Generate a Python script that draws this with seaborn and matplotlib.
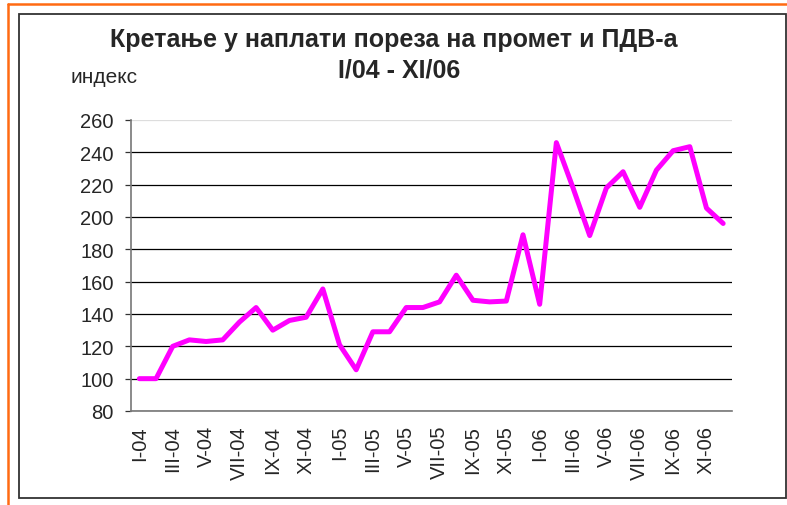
import numpy as np
import pandas as pd
import matplotlib
matplotlib.use("Agg")
import matplotlib.pyplot as plt
import seaborn as sns
from matplotlib.patches import Rectangle
from matplotlib.lines import Line2D

# index values, I/2004 .. XII/2006
months = ["I", "II", "III", "IV", "V", "VI", "VII", "VIII", "IX", "X", "XI", "XII"]
years = ["04", "05", "06"]
periods = [f"{m}-{y}" for y in years for m in months]
index_values = [100, 100, 120, 124, 123, 124, 135, 144, 130, 136, 138, 155.5,
                121, 105.5, 129, 129, 144, 144, 147.5, 164, 148.5, 147.5, 148, 189,
                146, 246, 218, 188.5, 218, 228, 206, 229, 241, 243.5, 205.5, 196]
tick_labels = periods[::2]
y_ticks = [80, 100, 120, 140, 160, 180, 200, 220, 240, 260]

df = pd.DataFrame({"period": periods, "pos": range(len(periods)), "index": index_values})

sns.set_style("white")
plt.rcParams["font.family"] = ["Liberation Sans", "DejaVu Sans"]

fig = plt.figure(figsize=(7.87, 5.06), dpi=100)
ax = fig.add_axes([131 / 787, 1 - 412 / 506, 600.5 / 787, 291 / 506])

sns.lineplot(data=df, x="pos", y="index", color="#FF00FF", linewidth=3.6, ax=ax,
             solid_joinstyle="round", solid_capstyle="round")

ax.set_xlim(-0.5, len(periods) - 0.5)
ax.set_ylim(80, 260)
ax.set_yticks(y_ticks)
ax.set_yticklabels([str(v) for v in y_ticks], fontsize=14.5)
ax.set_xticks(df["pos"][::2])
ax.set_xticklabels(tick_labels, rotation=90, fontsize=14.5)
ax.set_xticks(np.arange(-0.5, len(periods)), minor=True)
ax.tick_params(axis="x", which="major", length=0, pad=10)
ax.tick_params(axis="x", which="minor", length=4.5, width=0.9, color="#333333")
ax.tick_params(axis="y", length=4.5, width=0.9, color="#333333", pad=8, left=True)
ax.set_xlabel("")
ax.set_ylabel("")

ax.grid(axis="y", color="black", linewidth=0.9)
ax.get_ygridlines()[-1].set_color("#dddddd")
ax.set_axisbelow(True)
for side in ["top", "right"]:
    ax.spines[side].set_visible(False)
for side in ["left", "bottom"]:
    ax.spines[side].set_color("#777777")
    ax.spines[side].set_linewidth(1.2)

fig.text(394 / 787, 1 - 47 / 506, "Кретање у наплати пореза на промет и ПДВ-а",
         ha="center", va="baseline", fontsize=18, fontweight="bold")
fig.text(399 / 787, 1 - 78 / 506, "I/04 - XI/06",
         ha="center", va="baseline", fontsize=18, fontweight="bold")
fig.text(70 / 787, 1 - 83 / 506, "индекс", ha="left", va="baseline", fontsize=15)

# chart frame and the orange outer border
fig.patches.append(Rectangle((19 / 787, 1 - 499 / 506), 767 / 787, 484 / 506,
                             transform=fig.transFigure, fill=False,
                             edgecolor="#333333", linewidth=1.3))
fig.lines.append(Line2D([8 / 787, 1], [1 - 5 / 506, 1 - 5 / 506],
                        transform=fig.transFigure, color="#FF6A13", linewidth=1.8))
fig.lines.append(Line2D([8 / 787, 8 / 787], [0, 1 - 5 / 506],
                        transform=fig.transFigure, color="#FF6A13", linewidth=1.8))

fig.savefig("out.png", dpi=100)
